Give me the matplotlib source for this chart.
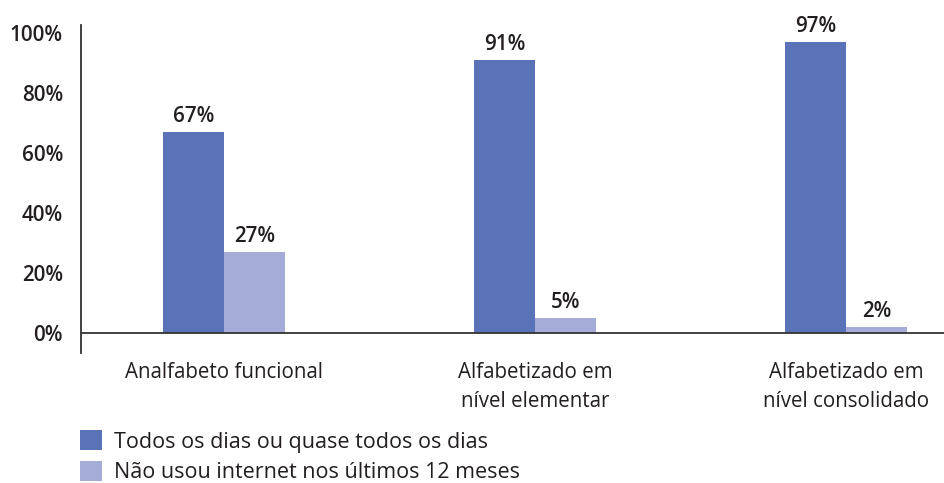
import matplotlib.pyplot as plt
import numpy as np

categories = ["Analfabeto funcional", "Alfabetizado em\nnível elementar", "Alfabetizado em\nnível consolidado"]
series_names = ["Todos os dias ou quase todos os dias", "Não usou internet nos últimos 12 meses"]
todos_dias = [67, 91, 97]
nao_usou = [27, 5, 2]
yticks = [0, 20, 40, 60, 80, 100]

blue = "#5a72b8"
light = "#a5acd7"
txt = "#231f20"
fs = 14.8

plt.rcParams['font.family'] = ['Open Sans', 'DejaVu Sans']

fig = plt.figure(figsize=(9.45, 4.83), dpi=100)
ax = fig.add_axes([81/945, 1-353/483, 1-81/945, (353-25)/483])

x = np.arange(len(categories))
w = 0.196
b1 = ax.bar(x - w/2, todos_dias, w, color=blue, label=series_names[0])
b2 = ax.bar(x + w/2, nao_usou, w, color=light, label=series_names[1])

for bars, vals in [(b1, todos_dias), (b2, nao_usou)]:
    for r, v in zip(bars, vals):
        ax.text(r.get_x() + r.get_width()/2, v + 1.8, f"{v}%", ha='center', va='bottom',
                fontsize=fs, color=txt, fontweight='semibold')

ax.set_xlim(-0.46, 2.318)
ax.set_ylim(-6.7, 102.7)
ax.axhline(0, color="#333333", lw=1.3)
for s in ['top', 'right', 'bottom']:
    ax.spines[s].set_visible(False)
ax.spines['left'].set_color("#333333")
ax.spines['left'].set_linewidth(1.3)

ax.set_yticks(yticks)
ax.set_yticklabels([f"{t}%" for t in yticks], fontsize=fs, color=txt, fontweight='semibold')
ax.tick_params(axis='y', length=0, pad=13)
ax.set_xticks([])

for i, c in enumerate(categories):
    ax.text(i, -9.8, c, ha='center', va='top', fontsize=fs, color=txt, linespacing=1.5)

fig.legend(handles=[b1, b2], loc='upper left', bbox_to_anchor=(61/945, 1-411/483),
           frameon=False, fontsize=15.5, handlelength=1.02, handleheight=1.02,
           handletextpad=0.55, labelspacing=0.4, labelcolor=txt)

fig.savefig("out.png", dpi=100)
